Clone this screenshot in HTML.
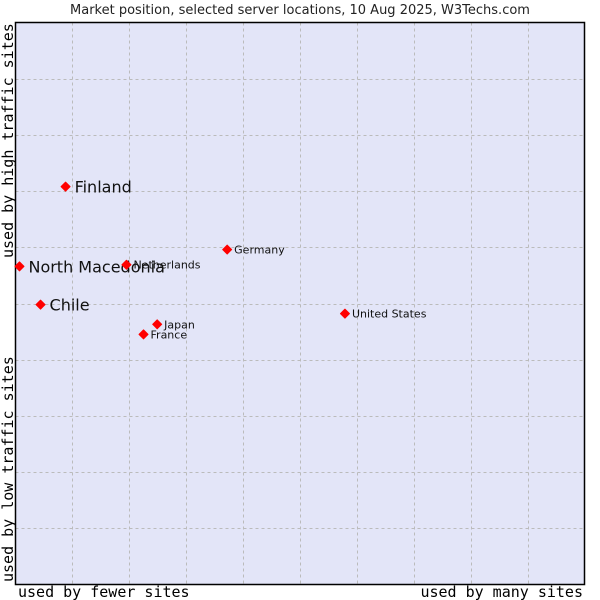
<!DOCTYPE html>
<html><head><meta charset="utf-8"><style>
html,body{margin:0;padding:0;background:#fff;}
svg{display:block;}
</style></head><body>
<svg id="chart" width="600" height="600" xmlns="http://www.w3.org/2000/svg">
<text x="300" y="14" text-anchor="middle" font-family="DejaVu Sans, sans-serif" font-size="13" fill="#222">Market position, selected server locations, 10 Aug 2025, W3Techs.com</text>
<rect x="15.5" y="22.5" width="569" height="562" fill="#e3e5f8" stroke="none"/>
<g id="grid"></g>
<rect x="15.5" y="22.5" width="569" height="562" fill="none" stroke="#000" stroke-width="1.5"/>
<g id="points"></g>
<text x="18" y="597" font-family="DejaVu Sans Mono, Liberation Mono, monospace" font-size="15" fill="#000">used by fewer sites</text>
<text x="583" y="597" text-anchor="end" font-family="DejaVu Sans Mono, Liberation Mono, monospace" font-size="15" fill="#000">used by many sites</text>
<text transform="translate(13,582) rotate(-90)" font-family="DejaVu Sans Mono, Liberation Mono, monospace" font-size="15" fill="#000">used by low traffic sites</text>
<text transform="translate(13,258) rotate(-90)" font-family="DejaVu Sans Mono, Liberation Mono, monospace" font-size="15" fill="#000">used by high traffic sites</text>
</svg>
<script>
const countries = ["Finland","North Macedonia","Netherlands","Germany","Chile","Japan","France","United States"];
const xValues = [8.8, 0.7, 19.5, 37.2, 4.4, 24.9, 22.5, 57.9];
const yValues = [70.8, 56.6, 56.9, 59.6, 49.8, 46.3, 44.5, 48.2];
const bigLabel = [true, true, false, false, true, false, false, false];
const gridTicks = [10,20,30,40,50,60,70,80,90];

const L=15.5, T=22.5, W=569, H=562;
const sx = v => L + v/100*W;
const sy = v => T + H - v/100*H;
const NS="http://www.w3.org/2000/svg";
const grid=document.getElementById('grid');
gridTicks.forEach(t=>{
  const v=document.createElementNS(NS,'line');
  v.setAttribute('x1',Math.round(sx(t))+0.5);v.setAttribute('x2',Math.round(sx(t))+0.5);
  v.setAttribute('y1',T);v.setAttribute('y2',T+H);
  v.setAttribute('stroke','#bbb');v.setAttribute('stroke-dasharray','3,3');
  
  
  grid.appendChild(v);
  const h=document.createElementNS(NS,'line');
  h.setAttribute('y1',Math.round(sy(t))+0.5);h.setAttribute('y2',Math.round(sy(t))+0.5);
  h.setAttribute('x1',L);h.setAttribute('x2',L+W);
  h.setAttribute('stroke','#bbb');h.setAttribute('stroke-dasharray','3,3');
  
  
  grid.appendChild(h);
});
const pts=document.getElementById('points');
countries.forEach((c,i)=>{
  const x=sx(xValues[i]), y=sy(yValues[i]);
  const p=document.createElementNS(NS,'path');
  p.setAttribute('d',`M${x-4.5},${y} L${x},${y-4.5} L${x+4.5},${y} L${x},${y+4.5} Z`);
  p.setAttribute('fill','#f00');
  p.setAttribute('stroke','#f00');p.setAttribute('stroke-width','1');p.setAttribute('stroke-linejoin','round');
  
  
  pts.appendChild(p);
  const t=document.createElementNS(NS,'text');
  const big=bigLabel[i];
  t.setAttribute('x',x+(big?9:7));
  t.setAttribute('y',y+(big?6:4));
  t.setAttribute('font-family','DejaVu Sans, Liberation Sans, sans-serif');
  t.setAttribute('font-size',big?16:11);
  t.setAttribute('fill','#111');
  t.textContent=c;
  
  
  pts.appendChild(t);
});
</script>
</body></html>
